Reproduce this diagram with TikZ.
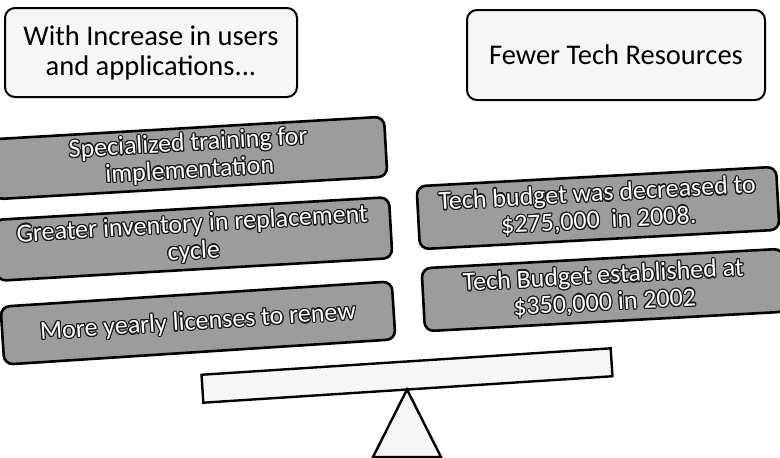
\documentclass[tikz,border=0pt]{standalone}
\usepackage{fontspec}
\setmainfont{Carlito}
\usepackage[copies]{contour}
\contourlength{1.1pt}
\contournumber{16}
% white letters with a dark outline
\newcommand\outl[1]{\contour{black!90}{#1}}
\definecolor{panel}{HTML}{F6F6F6}
\definecolor{slab}{HTML}{9C9C9C}
\tikzset{
  headbox/.style={draw=black, line width=2pt, rounded corners=10pt, fill=panel,
    align=center, inner sep=0pt, font=\fontsize{28.5}{30}\selectfont},
  greybox/.style={draw=black, line width=2.6pt, rounded corners=9pt, fill=slab,
    text=white, align=center, inner sep=0pt, font=\fontsize{26}{27}\selectfont},
  beam/.style={draw=black, line width=2.4pt, fill=panel, inner sep=0pt},
  pivot/.style={draw=black, line width=2.4pt, fill=panel, line join=miter}
}
\begin{document}
\begin{tikzpicture}[x=1pt,y=-1pt]
\useasboundingbox (0,0) rectangle (780,458);
\clip (0,0) rectangle (780,458);
\fill[white] (0,0) rectangle (780,458);

% headings
\node[headbox, minimum width=292pt, minimum height=89pt] (more) at (151,52.5)
  {With Increase in users\\and applications...};
\node[headbox, minimum width=298pt, minimum height=90pt] (fewer) at (616,55)
  {Fewer Tech Resources};

% growing demands (left)
\node[greybox, rotate=3.3, minimum width=394pt, minimum height=60pt] (train) at (189,158)
  {\outl{Specialized training for}\\\outl{implementation}};
\node[greybox, rotate=3.3, minimum width=396pt, minimum height=61pt] (inv) at (193,239)
  {\outl{Greater inventory in replacement}\\\outl{cycle}};
\node[greybox, rotate=3.7, minimum width=392pt, minimum height=58pt] (lic) at (198,323)
  {\outl{More yearly licenses to renew}};

% shrinking budget (right)
\node[greybox, rotate=3.1, minimum width=360pt, minimum height=63pt] (cut) at (598,208)
  {\outl{Tech budget was decreased to}\\\outl{\$275,000~ in 2008.}};
\node[greybox, rotate=3.1, minimum width=362pt, minimum height=63pt] (base) at (604,290)
  {\outl{Tech Budget established at}\\\outl{\$350,000 in 2002}};

% seesaw
\node[beam, rotate=3.7, minimum width=410pt, minimum height=28pt] (plank) at (407,375.5) {};
\coordinate (apex) at (407,389.5);
\coordinate (bl) at (373,457);
\coordinate (br) at (441,457);
\draw[pivot] (apex) -- (br) -- (bl) -- cycle;
\end{tikzpicture}
\end{document}
